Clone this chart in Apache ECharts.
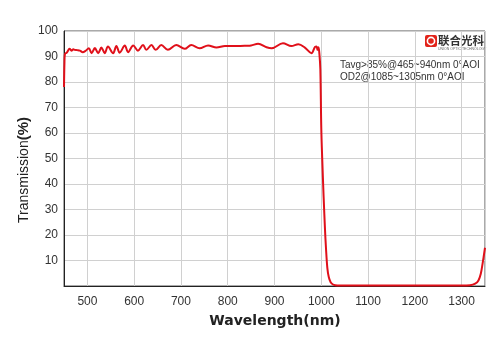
<!DOCTYPE html>
<html lang="en" style="height: 100%">
<head>
  <meta charset="utf-8">
  <title>Transmission Spectrum</title>
</head>
<body style="height: 100%; margin: 0; background: #fff">
  <div id="container" style="width: 500px; height: 353px"></div>

  <script type="text/javascript" src="https://cdn.jsdelivr.net/npm/echarts@6.0.0/dist/echarts.min.js"></script>

  <script type="text/javascript">
    // wavelength (nm) and transmission (%)
    var wavelength = [
      450, 451, 452, 456, 462, 466, 470, 473, 478, 484, 490, 496,
      503, 509, 516, 523, 530, 537, 544, 555, 562, 569, 580, 587,
      598, 608, 619, 626, 637, 646, 658, 672, 690, 708, 722, 740,
      758, 776, 794, 820, 840, 850, 865, 883, 894, 918, 936, 951,
      965, 979, 987, 990, 992, 994, 996, 998, 1000, 1002, 1005, 1008,
      1010, 1013, 1016, 1020, 1025, 1030, 1040, 1100, 1200, 1300,
      1318, 1329, 1336, 1341, 1345, 1350
    ];
    var transmission = [
      78, 88, 91, 91.5, 93, 92.3, 92.8, 92.6, 92.5, 92.3, 91.7, 92.2,
      93.2, 91.3, 93.3, 91.3, 93.5, 91.3, 93.9, 91.3, 94.1, 91.5, 94.3, 91.7,
      94.3, 92.3, 94.5, 92.6, 94.5, 92.6, 94.5, 92.6, 94.5, 93.0, 94.5, 93.2,
      94.3, 93.5, 94.1, 94.1, 94.2, 94.3, 95.0, 93.6, 93.2, 95.2, 94.1, 94.8,
      93.5, 91.3, 93.8, 93.9, 92.6, 93.6, 91, 85, 62, 50, 35, 22,
      15, 7, 3.5, 1.5, 0.6, 0.3, 0.2, 0.2, 0.2, 0.2,
      0.3, 0.9, 2.2, 4.8, 9, 15
    ];
    var notes = ['Tavg>85%@465~940nm 0°AOI', 'OD2@1085~1305nm 0°AOI'];
    var brand = '联合光科';

    var points = wavelength.map(function (w, i) { return [w, transmission[i]]; });

    var dom = document.getElementById('container');
    var myChart = echarts.init(dom, null, { renderer: 'canvas' });

    var labelFont = 'Liberation Sans, Arial, sans-serif';

    var option = {
      animation: false,
      grid: {
        left: 64, right: 15, top: 31, bottom: 67,
        show: true, borderColor: '#555', borderWidth: 1
      },
      xAxis: {
        type: 'value',
        min: 450,
        max: 1350,
        splitNumber: 9,
        axisLine: { show: true, lineStyle: { color: '#222' } },
        axisTick: { show: false },
        axisLabel: {
          showMinLabel: false, showMaxLabel: false,
          formatter: function (v) { return String(v); },
          color: '#333', fontSize: 12, fontFamily: labelFont, margin: 10
        },
        splitLine: { show: true, lineStyle: { color: '#d0d0d0', width: 1 } }
      },
      yAxis: {
        type: 'value',
        min: 0,
        max: 100,
        interval: 10,
        axisLine: { show: true, lineStyle: { color: '#222' } },
        axisTick: { show: false },
        axisLabel: {
          showMinLabel: false,
          color: '#333', fontSize: 12, fontFamily: labelFont, margin: 6
        },
        splitLine: { show: true, lineStyle: { color: '#d0d0d0', width: 1 } }
      },
      series: [{
        type: 'line',
        data: points,
        showSymbol: false,
        smooth: 0.35,
        lineStyle: { color: '#e0101a', width: 2 },
        z: 5
      }],
      graphic: [
        {
          type: 'text', x: 24, y: 170, rotation: Math.PI / 2,
          style: {
            text: '{a|Transmission}{b|(%)}',
            align: 'center', verticalAlign: 'middle',
            rich: {
              a: { fontSize: 14, fontFamily: labelFont, fill: '#222' },
              b: { fontSize: 15, fontWeight: 'bold', fontFamily: labelFont, fill: '#222' }
            }
          }
        },
        {
          type: 'text', x: 275, y: 321,
          style: {
            text: 'Wavelength(nm)', align: 'center', verticalAlign: 'middle',
            fontSize: 14, fontWeight: 'bold', fontFamily: 'DejaVu Sans, sans-serif', fill: '#222'
          }
        },
        {
          type: 'text', x: 340, y: 65,
          style: {
            text: notes[0], align: 'left', verticalAlign: 'middle',
            fontSize: 10, fontFamily: labelFont, fill: '#333'
          }
        },
        {
          type: 'text', x: 340, y: 77,
          style: {
            text: notes[1], align: 'left', verticalAlign: 'middle',
            fontSize: 10, fontFamily: labelFont, fill: '#333'
          }
        },
        {
          type: 'rect', shape: { x: 425, y: 35, width: 12, height: 12, r: 2 },
          style: { fill: '#e2231a' }
        },
        {
          type: 'circle', shape: { cx: 431, cy: 41, r: 3.6 },
          style: { fill: 'none', stroke: '#fff', lineWidth: 1.6 }
        },
        {
          type: 'text', x: 438, y: 41,
          style: {
            text: brand, align: 'left', verticalAlign: 'middle',
            fontSize: 11.5, fontWeight: 'bold', fontFamily: 'Noto Sans CJK SC', fill: '#333'
          }
        },
        {
          type: 'text', x: 438, y: 49,
          style: {
            text: 'UNION OPTIC TECHNOLOGY', align: 'left', verticalAlign: 'middle',
            fontSize: 3.5, fontFamily: labelFont, fill: '#666'
          }
        }
      ]
    };

    myChart.setOption(option);

    window.addEventListener('resize', function () {
      myChart.resize();
    });
  </script>
</body>
</html>
